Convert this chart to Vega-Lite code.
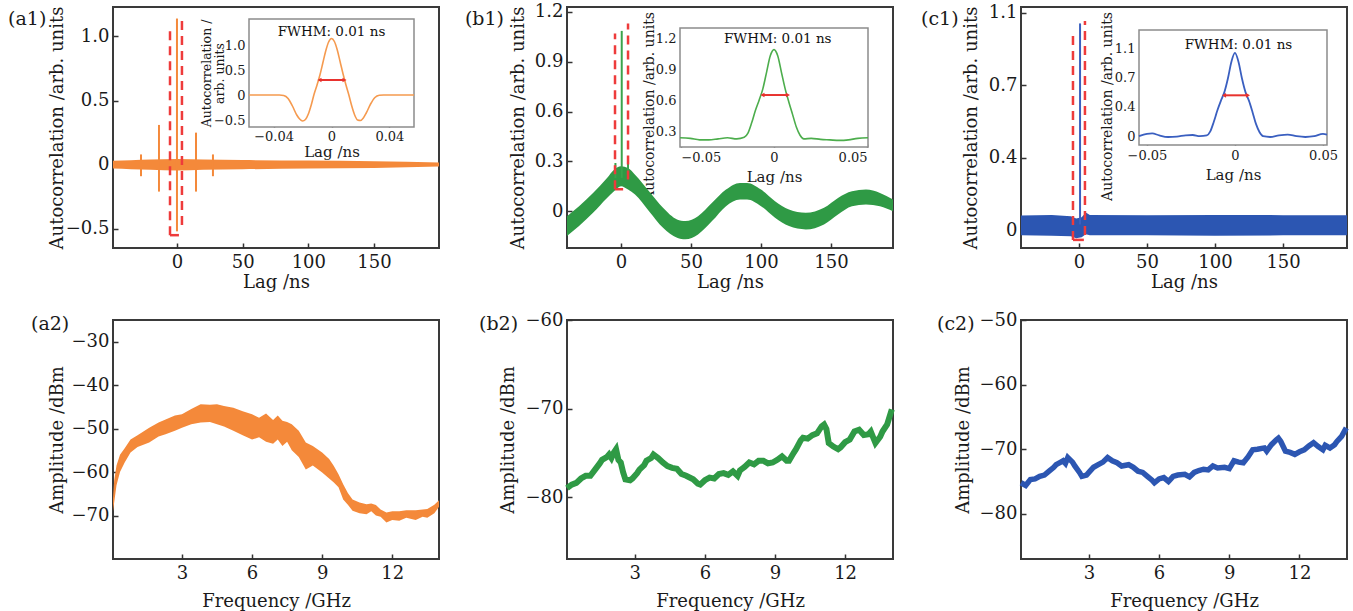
{
  "$schema": "https://vega.github.io/schema/vega-lite/v6.json",
  "background": "white",
  "autosize": {"type": "pad"},
  "padding": {"left": 7, "top": 1, "right": 5, "bottom": 3},
  "columns": 3,
  "spacing": {"column": 128, "row": 72},
  "bounds": "flush",
  "datasets": {
    "a1band": [{"x":-48.7,"y":-0.03,"y2":0.03},{"x":-35,"y":-0.035,"y2":0.035},{"x":-20,"y":-0.04,"y2":0.04},{"x":0,"y":-0.045,"y2":0.045},{"x":20,"y":-0.04,"y2":0.04},{"x":50,"y":-0.036,"y2":0.036},{"x":100,"y":-0.03,"y2":0.032},{"x":150,"y":-0.025,"y2":0.026},{"x":199.5,"y":-0.015,"y2":0.016}],
    "a1spk": [{"x":-27.4,"y":-0.09,"y2":0.08},{"x":-13.7,"y":-0.21,"y2":0.31},{"x":0,"y":-0.52,"y2":1.14},{"x":14.5,"y":-0.21,"y2":0.25},{"x":27.4,"y":-0.09,"y2":0.08}],
    "a1boxv": [{"x":-5.3,"y":-0.55,"y2":1.06},{"x":3.8,"y":-0.47,"y2":1.16}],
    "a1boxh": [{"x":-5.3,"x2":1.5,"y":-0.55}],
    "a1ins": [{"x":-0.057,"y":0},{"x":-0.045,"y":0},{"x":-0.036,"y":0},{"x":-0.033,"y":-0.01},{"x":-0.03,"y":-0.07},{"x":-0.027,"y":-0.22},{"x":-0.024,"y":-0.4},{"x":-0.022,"y":-0.48},{"x":-0.02,"y":-0.52},{"x":-0.018,"y":-0.49},{"x":-0.016,"y":-0.38},{"x":-0.014,"y":-0.2},{"x":-0.012,"y":0.02},{"x":-0.01,"y":0.2},{"x":-0.008,"y":0.4},{"x":-0.006,"y":0.64},{"x":-0.004,"y":0.88},{"x":-0.002,"y":1.06},{"x":0,"y":1.13},{"x":0.002,"y":1.07},{"x":0.004,"y":0.9},{"x":0.006,"y":0.66},{"x":0.008,"y":0.42},{"x":0.01,"y":0.2},{"x":0.012,"y":0.0},{"x":0.014,"y":-0.22},{"x":0.016,"y":-0.4},{"x":0.018,"y":-0.5},{"x":0.02,"y":-0.51},{"x":0.022,"y":-0.46},{"x":0.024,"y":-0.36},{"x":0.027,"y":-0.18},{"x":0.03,"y":-0.05},{"x":0.033,"y":-0.005},{"x":0.036,"y":0},{"x":0.045,"y":0},{"x":0.057,"y":0}],
    "a1arr": [{"x":-0.0083,"x2":0.009,"y":0.3}],
    "b1band": [{"x":-38.6,"y":-0.15,"y2":-0.03},{"x":-30,"y":-0.09,"y2":0.03},{"x":-20,"y":-0.01,"y2":0.11},{"x":-10,"y":0.08,"y2":0.2},{"x":-5,"y":0.12,"y2":0.25},{"x":0,"y":0.15,"y2":0.27},{"x":5,"y":0.13,"y2":0.26},{"x":10,"y":0.1,"y2":0.22},{"x":20,"y":0.0,"y2":0.12},{"x":30,"y":-0.1,"y2":0.02},{"x":40,"y":-0.16,"y2":-0.05},{"x":46,"y":-0.17,"y2":-0.06},{"x":55,"y":-0.14,"y2":-0.03},{"x":65,"y":-0.06,"y2":0.05},{"x":75,"y":0.03,"y2":0.13},{"x":85,"y":0.07,"y2":0.17},{"x":90,"y":0.07,"y2":0.17},{"x":100,"y":0.03,"y2":0.13},{"x":110,"y":-0.04,"y2":0.06},{"x":120,"y":-0.09,"y2":0.01},{"x":132,"y":-0.11,"y2":-0.01},{"x":145,"y":-0.08,"y2":0.02},{"x":155,"y":-0.02,"y2":0.08},{"x":165,"y":0.03,"y2":0.12},{"x":175,"y":0.04,"y2":0.13},{"x":185,"y":0.03,"y2":0.11},{"x":194.3,"y":0.0,"y2":0.07}],
    "b1spk": [{"x":0.5,"y":0.2,"y2":1.086},{"x":-4,"y":0.2,"y2":0.29},{"x":5,"y":0.2,"y2":0.29}],
    "b1boxv": [{"x":-4.3,"y":0.132,"y2":1.07},{"x":5,"y":0.19,"y2":1.13}],
    "b1boxh": [{"x":-4.3,"x2":1.5,"y":0.132}],
    "b1ins": [{"x":-0.0505,"y":0.235},{"x":-0.045,"y":0.23},{"x":-0.04,"y":0.215},{"x":-0.035,"y":0.215},{"x":-0.03,"y":0.225},{"x":-0.025,"y":0.235},{"x":-0.02,"y":0.225},{"x":-0.016,"y":0.24},{"x":-0.014,"y":0.28},{"x":-0.012,"y":0.38},{"x":-0.01,"y":0.5},{"x":-0.008,"y":0.6},{"x":-0.006,"y":0.71},{"x":-0.004,"y":0.87},{"x":-0.002,"y":1.03},{"x":0,"y":1.09},{"x":0.002,"y":1.03},{"x":0.004,"y":0.87},{"x":0.006,"y":0.71},{"x":0.008,"y":0.58},{"x":0.01,"y":0.46},{"x":0.012,"y":0.34},{"x":0.014,"y":0.26},{"x":0.016,"y":0.225},{"x":0.02,"y":0.23},{"x":0.025,"y":0.22},{"x":0.03,"y":0.215},{"x":0.035,"y":0.21},{"x":0.04,"y":0.215},{"x":0.045,"y":0.23},{"x":0.0505,"y":0.235}],
    "b1arr": [{"x":-0.0062,"x2":0.0075,"y":0.65}],
    "c1band": [{"x":-42.6,"y":-0.025,"y2":0.075},{"x":-20,"y":-0.027,"y2":0.078},{"x":-6,"y":-0.03,"y2":0.072},{"x":-2,"y":-0.04,"y2":0.06},{"x":2,"y":-0.035,"y2":0.066},{"x":5,"y":-0.02,"y2":0.09},{"x":8,"y":-0.025,"y2":0.078},{"x":50,"y":-0.025,"y2":0.077},{"x":100,"y":-0.027,"y2":0.078},{"x":150,"y":-0.025,"y2":0.077},{"x":197,"y":-0.025,"y2":0.076}],
    "c1spk": [{"x":0.8,"y":0.03,"y2":1.046}],
    "c1boxv": [{"x":-4.4,"y":-0.048,"y2":0.997},{"x":4.4,"y":-0.023,"y2":1.058}],
    "c1boxh": [{"x":-4.4,"x2":3.6,"y":-0.048}],
    "c1ins": [{"x":-0.0545,"y":0.0},{"x":-0.05,"y":0.03},{"x":-0.047,"y":0.035},{"x":-0.043,"y":0.01},{"x":-0.038,"y":-0.01},{"x":-0.033,"y":-0.005},{"x":-0.028,"y":0.01},{"x":-0.024,"y":0.015},{"x":-0.02,"y":0.0},{"x":-0.016,"y":0.01},{"x":-0.014,"y":0.06},{"x":-0.012,"y":0.18},{"x":-0.01,"y":0.32},{"x":-0.008,"y":0.44},{"x":-0.006,"y":0.55},{"x":-0.004,"y":0.72},{"x":-0.002,"y":0.93},{"x":0,"y":1.04},{"x":0.002,"y":0.93},{"x":0.004,"y":0.72},{"x":0.006,"y":0.55},{"x":0.008,"y":0.44},{"x":0.01,"y":0.3},{"x":0.012,"y":0.15},{"x":0.014,"y":0.05},{"x":0.016,"y":0.0},{"x":0.02,"y":-0.01},{"x":0.025,"y":0.01},{"x":0.03,"y":0.02},{"x":0.035,"y":0.0},{"x":0.04,"y":-0.01},{"x":0.045,"y":0.0},{"x":0.05,"y":0.03},{"x":0.0523,"y":0.02}],
    "c1arr": [{"x":-0.0062,"x2":0.0074,"y":0.51}],
    "a2band": [{"x":0.05,"y":-69,"y2":-66},{"x":0.1,"y":-67,"y2":-62},{"x":0.2,"y":-63,"y2":-58.5},{"x":0.35,"y":-60,"y2":-56},{"x":0.55,"y":-57.8,"y2":-54.5},{"x":0.8,"y":-55.5,"y2":-52.5},{"x":1.1,"y":-54.2,"y2":-51.5},{"x":1.6,"y":-53.2,"y2":-49.8},{"x":2.0,"y":-51.8,"y2":-48.6},{"x":2.3,"y":-51.3,"y2":-47.9},{"x":2.7,"y":-50.5,"y2":-47},{"x":3.0,"y":-49.8,"y2":-46.7},{"x":3.4,"y":-49,"y2":-45.5},{"x":3.8,"y":-48.6,"y2":-44.4},{"x":4.2,"y":-48.5,"y2":-44.5},{"x":4.5,"y":-49,"y2":-44.4},{"x":4.8,"y":-49.5,"y2":-44.8},{"x":5.2,"y":-50.5,"y2":-45.2},{"x":5.6,"y":-51.5,"y2":-46},{"x":6.0,"y":-52.5,"y2":-46.7},{"x":6.3,"y":-52,"y2":-47.5},{"x":6.6,"y":-53,"y2":-46.5},{"x":6.9,"y":-53.5,"y2":-48},{"x":7.1,"y":-52.5,"y2":-47},{"x":7.3,"y":-54,"y2":-48.2},{"x":7.5,"y":-53,"y2":-48.5},{"x":7.7,"y":-55,"y2":-49},{"x":8.0,"y":-56.5,"y2":-50.5},{"x":8.3,"y":-59.4,"y2":-53.2},{"x":8.6,"y":-58.5,"y2":-54},{"x":9.0,"y":-60.1,"y2":-55.5},{"x":9.3,"y":-61.5,"y2":-57},{"x":9.5,"y":-62.4,"y2":-58.6},{"x":9.7,"y":-63.5,"y2":-60.5},{"x":9.9,"y":-66.3,"y2":-62.8},{"x":10.1,"y":-67.5,"y2":-64.8},{"x":10.3,"y":-68.9,"y2":-66.3},{"x":10.6,"y":-69.5,"y2":-67},{"x":10.9,"y":-69.7,"y2":-67.4},{"x":11.1,"y":-69,"y2":-67.2},{"x":11.3,"y":-70,"y2":-67.6},{"x":11.5,"y":-70.3,"y2":-68.6},{"x":11.75,"y":-71.6,"y2":-69.3},{"x":12.0,"y":-71,"y2":-69},{"x":12.3,"y":-71.2,"y2":-69},{"x":12.6,"y":-70.5,"y2":-68.8},{"x":13.0,"y":-71,"y2":-68.8},{"x":13.3,"y":-70.3,"y2":-68.6},{"x":13.5,"y":-70.5,"y2":-68.5},{"x":13.8,"y":-69.5,"y2":-67.5},{"x":14.0,"y":-68,"y2":-66.5}],
    "b2line": [{"x":0.1,"y":-79.0},{"x":0.3,"y":-78.6},{"x":0.5,"y":-78.4},{"x":0.7,"y":-77.9},{"x":0.9,"y":-77.6},{"x":1.1,"y":-77.6},{"x":1.3,"y":-76.9},{"x":1.5,"y":-76.2},{"x":1.6,"y":-75.8},{"x":1.8,"y":-75.5},{"x":1.9,"y":-75.2},{"x":2.0,"y":-75.6},{"x":2.1,"y":-75.0},{"x":2.2,"y":-74.6},{"x":2.3,"y":-75.8},{"x":2.4,"y":-76.1},{"x":2.5,"y":-77.2},{"x":2.6,"y":-78.0},{"x":2.8,"y":-78.1},{"x":2.9,"y":-77.9},{"x":3.1,"y":-77.3},{"x":3.2,"y":-76.9},{"x":3.4,"y":-76.4},{"x":3.5,"y":-75.9},{"x":3.7,"y":-75.6},{"x":3.8,"y":-75.2},{"x":4.0,"y":-75.6},{"x":4.2,"y":-76.1},{"x":4.4,"y":-76.5},{"x":4.6,"y":-76.7},{"x":4.8,"y":-76.8},{"x":5.0,"y":-77.4},{"x":5.2,"y":-77.6},{"x":5.5,"y":-78.0},{"x":5.7,"y":-78.5},{"x":5.8,"y":-78.6},{"x":6.0,"y":-78.1},{"x":6.2,"y":-77.8},{"x":6.4,"y":-77.9},{"x":6.6,"y":-77.4},{"x":6.8,"y":-77.3},{"x":7.0,"y":-77.5},{"x":7.2,"y":-77.1},{"x":7.4,"y":-77.6},{"x":7.5,"y":-77.0},{"x":7.7,"y":-76.6},{"x":7.9,"y":-76.1},{"x":8.1,"y":-76.3},{"x":8.3,"y":-75.9},{"x":8.5,"y":-75.9},{"x":8.7,"y":-76.2},{"x":8.9,"y":-76.1},{"x":9.1,"y":-75.8},{"x":9.3,"y":-75.4},{"x":9.5,"y":-75.9},{"x":9.6,"y":-75.9},{"x":9.8,"y":-75.0},{"x":9.9,"y":-74.6},{"x":10.1,"y":-73.6},{"x":10.2,"y":-73.3},{"x":10.4,"y":-73.4},{"x":10.6,"y":-73.0},{"x":10.8,"y":-72.8},{"x":11.0,"y":-72.0},{"x":11.1,"y":-71.8},{"x":11.2,"y":-72.3},{"x":11.3,"y":-73.9},{"x":11.5,"y":-74.3},{"x":11.7,"y":-74.6},{"x":11.8,"y":-74.4},{"x":12.0,"y":-73.8},{"x":12.2,"y":-73.5},{"x":12.4,"y":-72.6},{"x":12.6,"y":-72.4},{"x":12.8,"y":-73.0},{"x":13.0,"y":-72.9},{"x":13.1,"y":-72.6},{"x":13.3,"y":-73.9},{"x":13.5,"y":-73.2},{"x":13.6,"y":-72.6},{"x":13.8,"y":-71.8},{"x":14.0,"y":-70.1}],
    "c2line": [{"x":0.1,"y":-75.2},{"x":0.3,"y":-75.6},{"x":0.5,"y":-74.7},{"x":0.7,"y":-74.6},{"x":0.9,"y":-74.2},{"x":1.1,"y":-74.0},{"x":1.3,"y":-73.4},{"x":1.5,"y":-72.8},{"x":1.6,"y":-72.4},{"x":1.8,"y":-72.0},{"x":1.9,"y":-71.8},{"x":2.0,"y":-72.2},{"x":2.1,"y":-71.3},{"x":2.3,"y":-72.0},{"x":2.4,"y":-72.6},{"x":2.6,"y":-73.6},{"x":2.7,"y":-74.2},{"x":2.9,"y":-74.0},{"x":3.0,"y":-73.6},{"x":3.2,"y":-72.8},{"x":3.4,"y":-72.4},{"x":3.6,"y":-72.0},{"x":3.8,"y":-71.3},{"x":4.0,"y":-71.8},{"x":4.2,"y":-72.1},{"x":4.4,"y":-72.6},{"x":4.7,"y":-72.4},{"x":4.9,"y":-72.8},{"x":5.1,"y":-73.4},{"x":5.3,"y":-73.6},{"x":5.5,"y":-74.2},{"x":5.7,"y":-74.8},{"x":5.8,"y":-75.2},{"x":6.0,"y":-74.6},{"x":6.2,"y":-74.4},{"x":6.4,"y":-75.0},{"x":6.6,"y":-74.2},{"x":6.8,"y":-74.0},{"x":7.1,"y":-73.9},{"x":7.3,"y":-74.3},{"x":7.5,"y":-73.6},{"x":7.7,"y":-73.3},{"x":7.9,"y":-73.1},{"x":8.1,"y":-73.2},{"x":8.3,"y":-72.6},{"x":8.5,"y":-72.9},{"x":8.8,"y":-72.8},{"x":9.0,"y":-73.0},{"x":9.2,"y":-71.8},{"x":9.4,"y":-72.0},{"x":9.6,"y":-72.1},{"x":9.8,"y":-71.2},{"x":10.0,"y":-70.1},{"x":10.2,"y":-70.0},{"x":10.5,"y":-69.8},{"x":10.6,"y":-70.3},{"x":10.8,"y":-69.3},{"x":11.0,"y":-68.6},{"x":11.1,"y":-68.3},{"x":11.2,"y":-68.8},{"x":11.4,"y":-70.3},{"x":11.6,"y":-70.5},{"x":11.8,"y":-70.8},{"x":12.0,"y":-70.4},{"x":12.2,"y":-70.1},{"x":12.4,"y":-69.5},{"x":12.6,"y":-69.0},{"x":12.8,"y":-69.6},{"x":13.0,"y":-70.1},{"x":13.1,"y":-69.4},{"x":13.3,"y":-69.8},{"x":13.5,"y":-69.3},{"x":13.6,"y":-68.8},{"x":13.8,"y":-68.0},{"x":14.0,"y":-66.7}]
  },
  "concat": [
    {
      "width": 326, "height": 241,
      "layer": [
        {"layer": [
          {"data": {"name": "a1band"}, "mark": {"type": "area", "color": "#f4893a", "interpolate": "monotone"},
           "encoding": {
             "x": {"field": "x", "type": "quantitative", "scale": {"domain": [-48.7, 199.5], "nice": false}, "axis": {"values": [0, 50, 100, 150], "title": "Lag /ns", "titleY": 34}},
             "y": {"field": "y", "type": "quantitative", "scale": {"domain": [-0.65, 1.23], "nice": false}, "axis": {"values": [-0.5, 0, 0.5, 1], "format": ".1f", "labelExpr": "datum.value == 0 ? '0' : datum.label", "title": "Autocorrelation /arb. units", "titleX": -56}},
             "y2": {"field": "y2"}}},
          {"data": {"name": "a1spk"}, "mark": {"type": "rule", "color": "#f4893a", "strokeWidth": 2},
           "encoding": {"x": {"field": "x", "type": "quantitative"}, "y": {"field": "y", "type": "quantitative"}, "y2": {"field": "y2"}}},
          {"data": {"name": "a1boxv"}, "mark": {"type": "rule", "color": "#ee3b3b", "strokeWidth": 2.5, "strokeDash": [9, 6]},
           "encoding": {"x": {"field": "x", "type": "quantitative"}, "y": {"field": "y", "type": "quantitative"}, "y2": {"field": "y2"}}},
          {"data": {"name": "a1boxh"}, "mark": {"type": "rule", "color": "#ee3b3b", "strokeWidth": 2.5},
           "encoding": {"x": {"field": "x", "type": "quantitative"}, "x2": {"field": "x2"}, "y": {"field": "y", "type": "quantitative"}}},
          {"data": {"values": [{"t": "(a1)"}]}, "mark": {"type": "text", "align": "left", "baseline": "middle", "fontSize": 19, "color": "#1a1a1a"},
           "encoding": {"text": {"field": "t"}, "x": {"datum": -128.6, "type": "quantitative"}, "y": {"datum": 1.136, "type": "quantitative"}}}
        ]},
        {"layer": [
          {"data": {"values": [{}]}, "mark": {"type": "rect", "fill": "white", "stroke": "#8c8c8c", "strokeWidth": 1.5},
           "encoding": {
             "x": {"datum": -0.057, "type": "quantitative", "scale": {"domain": [-0.057, 0.057], "range": [136, 301], "nice": false},
                   "axis": {"orient": "bottom", "offset": -121, "values": [-0.04, 0, 0.04], "format": ".2f", "labelExpr": "datum.value == 0 ? '0' : datum.label", "title": "Lag /ns", "titleY": 24, "labelFontSize": 13, "titleFontSize": 15, "tickSize": -3, "labelPadding": 6}},
             "x2": {"datum": 0.057},
             "y": {"datum": -0.64, "type": "quantitative", "scale": {"domain": [-0.64, 1.52], "range": [120, 12], "nice": false},
                   "axis": {"orient": "left", "offset": -136, "values": [-0.5, 0, 0.5, 1], "format": ".1f", "labelExpr": "datum.value == 0 ? '0' : datum.label", "title": ["Autocorrelation /", "arb. units"], "titleX": -43, "labelFontSize": 13, "titleFontSize": 12.5, "titleLineHeight": 13, "tickSize": -3, "labelPadding": 7}},
             "y2": {"datum": 1.52}}},
          {"data": {"name": "a1ins"}, "mark": {"type": "line", "color": "#f59a4f", "strokeWidth": 1.6, "interpolate": "monotone"},
           "encoding": {"x": {"field": "x", "type": "quantitative"}, "y": {"field": "y", "type": "quantitative"}}},
          {"data": {"name": "a1arr"}, "mark": {"type": "rule", "color": "#e8322e", "strokeWidth": 2},
           "encoding": {"x": {"field": "x", "type": "quantitative"}, "x2": {"field": "x2"}, "y": {"field": "y", "type": "quantitative"}}},
          {"data": {"name": "a1arr"}, "mark": {"type": "point", "shape": "triangle-left", "filled": true, "color": "#e8322e", "size": 22, "opacity": 1},
           "encoding": {"x": {"field": "x", "type": "quantitative"}, "y": {"field": "y", "type": "quantitative"}}},
          {"data": {"name": "a1arr"}, "mark": {"type": "point", "shape": "triangle-right", "filled": true, "color": "#e8322e", "size": 22, "opacity": 1},
           "encoding": {"x": {"field": "x2", "type": "quantitative"}, "y": {"field": "y", "type": "quantitative"}}},
          {"data": {"values": [{"t": "FWHM: 0.01 ns"}]}, "mark": {"type": "text", "fontSize": 13.5, "color": "#111", "baseline": "middle", "align": "center"},
           "encoding": {"text": {"field": "t"}, "x": {"datum": 0.0, "type": "quantitative"}, "y": {"datum": 1.26, "type": "quantitative"}}}
        ]}
      ],
      "resolve": {"scale": {"x": "independent", "y": "independent"}, "axis": {"x": "independent", "y": "independent"}}
    },
    {
      "width": 326, "height": 241,
      "layer": [
        {"layer": [
          {"data": {"name": "b1band"}, "mark": {"type": "area", "color": "#2f9a45", "interpolate": "monotone"},
           "encoding": {
             "x": {"field": "x", "type": "quantitative", "scale": {"domain": [-38.6, 194.3], "nice": false}, "axis": {"values": [0, 50, 100, 150], "title": "Lag /ns", "titleY": 34}},
             "y": {"field": "y", "type": "quantitative", "scale": {"domain": [-0.222, 1.23], "nice": false}, "axis": {"values": [0, 0.3, 0.6, 0.9, 1.2], "format": ".1f", "labelExpr": "datum.value == 0 ? '0' : datum.label", "title": "Autocorrelation /arb. units", "titleX": -49}},
             "y2": {"field": "y2"}}},
          {"data": {"name": "b1spk"}, "mark": {"type": "rule", "color": "#3aa34c", "strokeWidth": 2},
           "encoding": {"x": {"field": "x", "type": "quantitative"}, "y": {"field": "y", "type": "quantitative"}, "y2": {"field": "y2"}}},
          {"data": {"name": "b1boxv"}, "mark": {"type": "rule", "color": "#ee3b3b", "strokeWidth": 2.5, "strokeDash": [9, 6]},
           "encoding": {"x": {"field": "x", "type": "quantitative"}, "y": {"field": "y", "type": "quantitative"}, "y2": {"field": "y2"}}},
          {"data": {"name": "b1boxh"}, "mark": {"type": "rule", "color": "#ee3b3b", "strokeWidth": 2.5},
           "encoding": {"x": {"field": "x", "type": "quantitative"}, "x2": {"field": "x2"}, "y": {"field": "y", "type": "quantitative"}}},
          {"data": {"values": [{"t": "(b1)"}]}, "mark": {"type": "text", "align": "left", "baseline": "middle", "fontSize": 19, "color": "#1a1a1a"},
           "encoding": {"text": {"field": "t"}, "x": {"datum": -111.5, "type": "quantitative"}, "y": {"datum": 1.158, "type": "quantitative"}}}
        ]},
        {"layer": [
          {"data": {"values": [{}]}, "mark": {"type": "rect", "fill": "white", "stroke": "#8c8c8c", "strokeWidth": 1.5},
           "encoding": {
             "x": {"datum": -0.0505, "type": "quantitative", "scale": {"domain": [-0.0505, 0.0505], "range": [113, 301], "nice": false},
                   "axis": {"orient": "bottom", "offset": -101, "values": [-0.05, 0, 0.05], "format": ".2f", "labelExpr": "datum.value == 0 ? '0' : datum.label", "title": "Lag /ns", "titleY": 29, "labelFontSize": 13, "titleFontSize": 15, "tickSize": -3, "labelPadding": 7}},
             "x2": {"datum": 0.0505},
             "y": {"datum": 0.146, "type": "quantitative", "scale": {"domain": [0.146, 1.3], "range": [140, 21], "nice": false},
                   "axis": {"orient": "left", "offset": -113, "values": [0.3, 0.6, 0.9, 1.2], "format": ".1f", "title": "Autocorrelation /arb. units", "titleX": -31, "titleY": 99, "labelFontSize": 13, "titleFontSize": 14, "tickSize": -3, "labelPadding": 7}},
             "y2": {"datum": 1.3}}},
          {"data": {"name": "b1ins"}, "mark": {"type": "line", "color": "#4cad4c", "strokeWidth": 1.6, "interpolate": "monotone"},
           "encoding": {"x": {"field": "x", "type": "quantitative"}, "y": {"field": "y", "type": "quantitative"}}},
          {"data": {"name": "b1arr"}, "mark": {"type": "rule", "color": "#e8322e", "strokeWidth": 2},
           "encoding": {"x": {"field": "x", "type": "quantitative"}, "x2": {"field": "x2"}, "y": {"field": "y", "type": "quantitative"}}},
          {"data": {"name": "b1arr"}, "mark": {"type": "point", "shape": "triangle-left", "filled": true, "color": "#e8322e", "size": 22, "opacity": 1},
           "encoding": {"x": {"field": "x", "type": "quantitative"}, "y": {"field": "y", "type": "quantitative"}}},
          {"data": {"name": "b1arr"}, "mark": {"type": "point", "shape": "triangle-right", "filled": true, "color": "#e8322e", "size": 22, "opacity": 1},
           "encoding": {"x": {"field": "x2", "type": "quantitative"}, "y": {"field": "y", "type": "quantitative"}}},
          {"data": {"values": [{"t": "FWHM: 0.01 ns"}]}, "mark": {"type": "text", "fontSize": 13.5, "color": "#111", "baseline": "middle", "align": "center"},
           "encoding": {"text": {"field": "t"}, "x": {"datum": 0.002, "type": "quantitative"}, "y": {"datum": 1.19, "type": "quantitative"}}}
        ]}
      ],
      "resolve": {"scale": {"x": "independent", "y": "independent"}, "axis": {"x": "independent", "y": "independent"}}
    },
    {
      "width": 326, "height": 241,
      "layer": [
        {"layer": [
          {"data": {"name": "c1band"}, "mark": {"type": "area", "color": "#2c56b2"},
           "encoding": {
             "x": {"field": "x", "type": "quantitative", "scale": {"domain": [-42.6, 197], "nice": false}, "axis": {"values": [0, 50, 100, 150], "title": "Lag /ns", "titleY": 34}},
             "y": {"field": "y", "type": "quantitative", "scale": {"domain": [-0.089, 1.129], "nice": false}, "axis": {"values": [0, 0.36667, 0.73333, 1.1], "format": ".1f", "labelExpr": "datum.value == 0 ? '0' : datum.label", "title": "Autocorrelation /arb. units", "titleX": -50}},
             "y2": {"field": "y2"}}},
          {"data": {"name": "c1spk"}, "mark": {"type": "rule", "color": "#3a60c0", "strokeWidth": 2},
           "encoding": {"x": {"field": "x", "type": "quantitative"}, "y": {"field": "y", "type": "quantitative"}, "y2": {"field": "y2"}}},
          {"data": {"name": "c1boxv"}, "mark": {"type": "rule", "color": "#ee3b3b", "strokeWidth": 2.5, "strokeDash": [9, 6]},
           "encoding": {"x": {"field": "x", "type": "quantitative"}, "y": {"field": "y", "type": "quantitative"}, "y2": {"field": "y2"}}},
          {"data": {"name": "c1boxh"}, "mark": {"type": "rule", "color": "#ee3b3b", "strokeWidth": 2.5},
           "encoding": {"x": {"field": "x", "type": "quantitative"}, "x2": {"field": "x2"}, "y": {"field": "y", "type": "quantitative"}}},
          {"data": {"values": [{"t": "(c1)"}]}, "mark": {"type": "text", "align": "left", "baseline": "middle", "fontSize": 19, "color": "#1a1a1a"},
           "encoding": {"text": {"field": "t"}, "x": {"datum": -116.1, "type": "quantitative"}, "y": {"datum": 1.068, "type": "quantitative"}}}
        ]},
        {"layer": [
          {"data": {"values": [{}]}, "mark": {"type": "rect", "fill": "white", "stroke": "#8c8c8c", "strokeWidth": 1.5},
           "encoding": {
             "x": {"datum": -0.0545, "type": "quantitative", "scale": {"domain": [-0.0545, 0.0523], "range": [118, 306], "nice": false},
                   "axis": {"orient": "bottom", "offset": -103, "values": [-0.05, 0, 0.05], "format": ".2f", "labelExpr": "datum.value == 0 ? '0' : datum.label", "title": "Lag /ns", "titleY": 29, "labelFontSize": 13, "titleFontSize": 15, "tickSize": -3, "labelPadding": 7}},
             "x2": {"datum": 0.0523},
             "y": {"datum": -0.11, "type": "quantitative", "scale": {"domain": [-0.11, 1.325], "range": [138, 23], "nice": false},
                   "axis": {"orient": "left", "offset": -118, "values": [0, 0.36667, 0.73333, 1.1], "format": ".1f", "labelExpr": "datum.value == 0 ? '0' : datum.label", "title": "Autocorrelation /arb. units", "titleX": -32, "titleY": 99, "labelFontSize": 13, "titleFontSize": 14, "tickSize": -3, "labelPadding": 7}},
             "y2": {"datum": 1.325}}},
          {"data": {"name": "c1ins"}, "mark": {"type": "line", "color": "#3a5fc0", "strokeWidth": 1.8, "interpolate": "monotone"},
           "encoding": {"x": {"field": "x", "type": "quantitative"}, "y": {"field": "y", "type": "quantitative"}}},
          {"data": {"name": "c1arr"}, "mark": {"type": "rule", "color": "#e8322e", "strokeWidth": 2},
           "encoding": {"x": {"field": "x", "type": "quantitative"}, "x2": {"field": "x2"}, "y": {"field": "y", "type": "quantitative"}}},
          {"data": {"name": "c1arr"}, "mark": {"type": "point", "shape": "triangle-left", "filled": true, "color": "#e8322e", "size": 22, "opacity": 1},
           "encoding": {"x": {"field": "x", "type": "quantitative"}, "y": {"field": "y", "type": "quantitative"}}},
          {"data": {"name": "c1arr"}, "mark": {"type": "point", "shape": "triangle-right", "filled": true, "color": "#e8322e", "size": 22, "opacity": 1},
           "encoding": {"x": {"field": "x2", "type": "quantitative"}, "y": {"field": "y", "type": "quantitative"}}},
          {"data": {"values": [{"t": "FWHM: 0.01 ns"}]}, "mark": {"type": "text", "fontSize": 13.5, "color": "#111", "baseline": "middle", "align": "center"},
           "encoding": {"text": {"field": "t"}, "x": {"datum": 0.002, "type": "quantitative"}, "y": {"datum": 1.14, "type": "quantitative"}}}
        ]}
      ],
      "resolve": {"scale": {"x": "independent", "y": "independent"}, "axis": {"x": "independent", "y": "independent"}}
    },
    {
      "width": 326, "height": 239,
      "layer": [
        {"data": {"name": "a2band"}, "mark": {"type": "area", "color": "#f4893a"},
         "encoding": {
           "x": {"field": "x", "type": "quantitative", "scale": {"domain": [0.05, 14], "nice": false}, "axis": {"values": [3, 6, 9, 12], "title": "Frequency /GHz", "titleY": 42}},
           "y": {"field": "y", "type": "quantitative", "scale": {"domain": [-80, -25], "nice": false}, "axis": {"values": [-70, -60, -50, -40, -30], "title": "Amplitude /dBm", "titleX": -56}},
           "y2": {"field": "y2"}}},
        {"data": {"values": [{"t": "(a2)"}]}, "mark": {"type": "text", "align": "left", "baseline": "middle", "fontSize": 19, "color": "#1a1a1a"},
         "encoding": {"text": {"field": "t"}, "x": {"datum": -3.459, "type": "quantitative"}, "y": {"datum": -25.92, "type": "quantitative"}}}
      ]
    },
    {
      "width": 326, "height": 239,
      "layer": [
        {"data": {"name": "b2line"}, "mark": {"type": "line", "color": "#2f9a45", "strokeWidth": 6},
         "encoding": {
           "x": {"field": "x", "type": "quantitative", "scale": {"domain": [0.1, 14.05], "nice": false}, "axis": {"values": [3, 6, 9, 12], "title": "Frequency /GHz", "titleY": 42}},
           "y": {"field": "y", "type": "quantitative", "scale": {"domain": [-87, -60], "nice": false}, "axis": {"values": [-80, -70, -60], "title": "Amplitude /dBm", "titleX": -59}}}},
        {"data": {"values": [{"t": "(b2)"}]}, "mark": {"type": "text", "align": "left", "baseline": "middle", "fontSize": 19, "color": "#1a1a1a"},
         "encoding": {"text": {"field": "t"}, "x": {"datum": -3.666, "type": "quantitative"}, "y": {"datum": -60.45, "type": "quantitative"}}}
      ]
    },
    {
      "width": 326, "height": 239,
      "layer": [
        {"data": {"name": "c2line"}, "mark": {"type": "line", "color": "#2c56b2", "strokeWidth": 5.5},
         "encoding": {
           "x": {"field": "x", "type": "quantitative", "scale": {"domain": [0.1, 14.03], "nice": false}, "axis": {"values": [3, 6, 9, 12], "title": "Frequency /GHz", "titleY": 42}},
           "y": {"field": "y", "type": "quantitative", "scale": {"domain": [-87, -50], "nice": false}, "axis": {"values": [-80, -70, -60, -50], "title": "Amplitude /dBm", "titleX": -58}}}},
        {"data": {"values": [{"t": "(c2)"}]}, "mark": {"type": "text", "align": "left", "baseline": "middle", "fontSize": 19, "color": "#1a1a1a"},
         "encoding": {"text": {"field": "t"}, "x": {"datum": -3.489, "type": "quantitative"}, "y": {"datum": -50.62, "type": "quantitative"}}}
      ]
    }
  ],
  "config": {
    "font": "DejaVu Serif",
    "view": {"stroke": "#3a3a3a", "strokeWidth": 2},
    "axis": {"grid": false, "domain": false, "ticks": true, "tickSize": -5, "tickColor": "#333", "tickWidth": 1.5, "labelPadding": 9, "labelFont": "DejaVu Serif", "labelFontSize": 18, "labelColor": "#1a1a1a", "titleFont": "DejaVu Serif", "titleFontSize": 18, "titleFontWeight": "normal", "titleColor": "#1a1a1a", "titleBaseline": "middle", "zindex": 1, "labelOverlap": false},
    "axisX": {"labelPadding": 10}
  }
}
